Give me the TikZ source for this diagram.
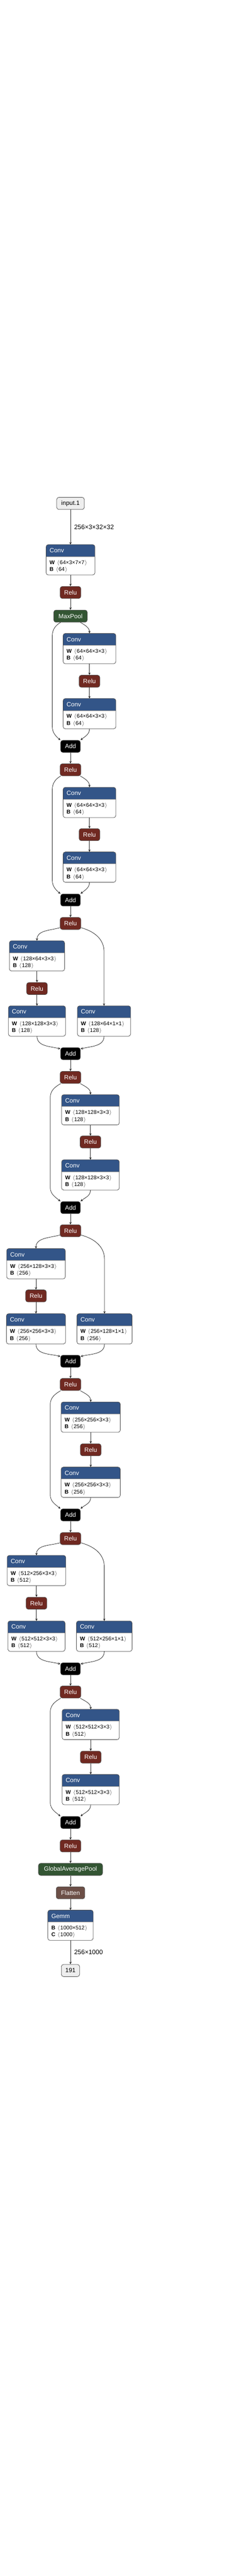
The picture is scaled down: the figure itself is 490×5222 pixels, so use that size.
\documentclass[tikz,border=0pt]{standalone}
\usepackage{fontspec}
\setmainfont{Liberation Sans}
\usetikzlibrary{arrows.meta, positioning, calc}

\definecolor{convblue}{RGB}{51,85,136}
\definecolor{relured}{RGB}{112,41,33}
\definecolor{poolgreen}{RGB}{51,85,51}
\definecolor{flatbrown}{RGB}{108,79,71}
\definecolor{iogray}{RGB}{238,238,238}

\tikzset{
  op/.style={draw=black!70, line width=0.8pt, rounded corners=4.5pt, minimum height=24.5pt, inner sep=0pt, text=white, font=\fontsize{12.5}{14}\selectfont},
  relu/.style={op, fill=relured, minimum width=42pt},
  addop/.style={op, fill=black, minimum width=40pt},
  pool/.style={op, fill=poolgreen},
  io/.style={op, fill=iogray, text=black},
  layerbox/.style={rectangle, fill=white, minimum height=61.5pt, inner sep=0pt, outer sep=0pt},
  attr/.style={anchor=west, inner sep=0pt, text=black, font=\fontsize{11}{12}\selectfont},
  link/.style={-{Stealth[length=5pt,width=4.5pt]}, draw=black!85, line width=0.8pt},
  lbl/.style={right, inner sep=0pt, xshift=7pt, text=black, font=\fontsize{13}{15}\selectfont}
}

\newcommand{\tsize}[1]{\ensuremath{\langle}\hspace{1pt}#1\hspace{1pt}\ensuremath{\rangle}}

% name, top centre, width, title, first row, second row
\newcommand{\opblock}[6]{%
  \node[layerbox, minimum width=#3pt, anchor=north] (#1) at (#2) {};
  \begin{scope}
    \clip[rounded corners=4.5pt] (#1.north west) rectangle (#1.south east);
    \fill[convblue] (#1.north west) rectangle ([yshift=-24pt]#1.north east);
  \end{scope}
  \draw[black!45, line width=0.5pt] ([yshift=-24pt]#1.north west) -- ([yshift=-24pt]#1.north east);
  \draw[black!70, line width=0.8pt, rounded corners=4.5pt] (#1.north west) rectangle (#1.south east);
  \node[attr, text=white, font=\fontsize{12.5}{14}\selectfont] (#1-t) at ([xshift=7pt,yshift=-12pt]#1.north west) {#4};
  \node[attr] (#1-w) at ([xshift=7pt,yshift=-37pt]#1.north west) {#5};
  \node[attr] (#1-b) at ([xshift=7pt,yshift=-51pt]#1.north west) {#6};
}

\begin{document}
\begin{tikzpicture}[x=1pt, y=-1pt]
\fill[white] (0,0) rectangle (490,5222);
\useasboundingbox (0,0) rectangle (490,5222);

% stem
\node[io, minimum width=56pt] (in) at (143,1020.5) {input.1};
\opblock{conv0}{143,1104}{99}{Conv}{\textbf{W}\hspace{5pt}\tsize{64×3×7×7}}{\textbf{B}\hspace{5pt}\tsize{64}}
\node[relu] (relu0) at (143,1201) {Relu};
\node[pool, minimum width=68pt] (mp) at (143,1249) {MaxPool};

% block 1
\opblock{c11}{181.5,1284}{107}{Conv}{\textbf{W}\hspace{5pt}\tsize{64×64×3×3}}{\textbf{B}\hspace{5pt}\tsize{64}}
\node[relu] (r11) at (181.5,1381) {Relu};
\opblock{c12}{181.5,1416}{107}{Conv}{\textbf{W}\hspace{5pt}\tsize{64×64×3×3}}{\textbf{B}\hspace{5pt}\tsize{64}}
\node[addop] (add1) at (143,1513) {Add};
\node[relu] (rel1) at (143,1560.5) {Relu};

% block 2
\opblock{c21}{181.5,1596}{107}{Conv}{\textbf{W}\hspace{5pt}\tsize{64×64×3×3}}{\textbf{B}\hspace{5pt}\tsize{64}}
\node[relu] (r21) at (181.5,1692) {Relu};
\opblock{c22}{181.5,1727}{107}{Conv}{\textbf{W}\hspace{5pt}\tsize{64×64×3×3}}{\textbf{B}\hspace{5pt}\tsize{64}}
\node[addop] (add2) at (143,1824.5) {Add};
\node[relu] (rel2) at (143,1872) {Relu};

% block 3
\opblock{c31}{75,1907}{112}{Conv}{\textbf{W}\hspace{5pt}\tsize{128×64×3×3}}{\textbf{B}\hspace{5pt}\tsize{128}}
\node[relu] (r31) at (75,2004) {Relu};
\opblock{c32}{75,2039}{116}{Conv}{\textbf{W}\hspace{5pt}\tsize{128×128×3×3}}{\textbf{B}\hspace{5pt}\tsize{128}}
\opblock{c3d}{211,2039}{108}{Conv}{\textbf{W}\hspace{5pt}\tsize{128×64×1×1}}{\textbf{B}\hspace{5pt}\tsize{128}}
\node[addop] (add3) at (143,2136) {Add};
\node[relu] (rel3) at (143,2184) {Relu};

% block 4
\opblock{c41}{183.5,2219}{117}{Conv}{\textbf{W}\hspace{5pt}\tsize{128×128×3×3}}{\textbf{B}\hspace{5pt}\tsize{128}}
\node[relu] (r41) at (183.5,2315) {Relu};
\opblock{c42}{183.5,2351}{117}{Conv}{\textbf{W}\hspace{5pt}\tsize{128×128×3×3}}{\textbf{B}\hspace{5pt}\tsize{128}}
\node[addop] (add4) at (143,2448) {Add};
\node[relu] (rel4) at (143,2495) {Relu};

% block 5
\opblock{c51}{73,2531}{119}{Conv}{\textbf{W}\hspace{5pt}\tsize{256×128×3×3}}{\textbf{B}\hspace{5pt}\tsize{256}}
\node[relu] (r51) at (73,2627) {Relu};
\opblock{c52}{73,2663}{120}{Conv}{\textbf{W}\hspace{5pt}\tsize{256×256×3×3}}{\textbf{B}\hspace{5pt}\tsize{256}}
\opblock{c5d}{212,2663}{112}{Conv}{\textbf{W}\hspace{5pt}\tsize{256×128×1×1}}{\textbf{B}\hspace{5pt}\tsize{256}}
\node[addop] (add5) at (143,2759.5) {Add};
\node[relu] (rel5) at (143,2806.5) {Relu};

% block 6
\opblock{c61}{184,2842}{120}{Conv}{\textbf{W}\hspace{5pt}\tsize{256×256×3×3}}{\textbf{B}\hspace{5pt}\tsize{256}}
\node[relu] (r61) at (184,2939) {Relu};
\opblock{c62}{184,2974}{120}{Conv}{\textbf{W}\hspace{5pt}\tsize{256×256×3×3}}{\textbf{B}\hspace{5pt}\tsize{256}}
\node[addop] (add6) at (143,3071) {Add};
\node[relu] (rel6) at (143,3119) {Relu};

% block 7
\opblock{c71}{74,3153}{119}{Conv}{\textbf{W}\hspace{5pt}\tsize{512×256×3×3}}{\textbf{B}\hspace{5pt}\tsize{512}}
\node[relu] (r71) at (74,3250) {Relu};
\opblock{c72}{74,3286}{116}{Conv}{\textbf{W}\hspace{5pt}\tsize{512×512×3×3}}{\textbf{B}\hspace{5pt}\tsize{512}}
\opblock{c7d}{211.5,3286}{113}{Conv}{\textbf{W}\hspace{5pt}\tsize{512×256×1×1}}{\textbf{B}\hspace{5pt}\tsize{512}}
\node[addop] (add7) at (143,3383) {Add};
\node[relu] (rel7) at (143,3430) {Relu};

% block 8
\opblock{c81}{184,3465}{116}{Conv}{\textbf{W}\hspace{5pt}\tsize{512×512×3×3}}{\textbf{B}\hspace{5pt}\tsize{512}}
\node[relu] (r81) at (184,3562) {Relu};
\opblock{c82}{184,3597}{116}{Conv}{\textbf{W}\hspace{5pt}\tsize{512×512×3×3}}{\textbf{B}\hspace{5pt}\tsize{512}}
\node[addop] (add8) at (143,3694.5) {Add};
\node[relu] (rel8) at (143,3742) {Relu};

% head
\node[pool, minimum width=130pt] (gap) at (143,3789.5) {GlobalAveragePool};
\node[op, fill=flatbrown, minimum width=58pt] (flat) at (143,3837) {Flatten};
\opblock{gemm}{143,3872}{92}{Gemm}{\textbf{B}\hspace{5pt}\tsize{1000×512}}{\textbf{C}\hspace{5pt}\tsize{1000}}
\node[io, minimum width=37pt] (out) at (143,3994.5) {191};

% stem edges
\draw[link] (in) -- node[lbl] {256×3×32×32} (conv0);
\draw[link] (conv0) -- (relu0);
\draw[link] (relu0) -- (mp);

% block 1 edges
\draw[link] ([xshift=20pt]mp.south) to[out=-30,in=90] (c11.north);
\draw[link] (c11) -- (r11);
\draw[link] (r11) -- (c12);
\draw[link] (c12.south) to[out=-90,in=40] (add1.north east);
\draw[link] ([xshift=-20pt]mp.south) to[out=-150,in=90] ([xshift=-37pt,yshift=-28pt]mp.south) -- ([xshift=-37pt,yshift=28pt]add1.north) to[out=-90,in=140] (add1.north west);
\draw[link] (add1) -- (rel1);

% block 2 edges
\draw[link] ([xshift=20pt]rel1.south) to[out=-30,in=90] (c21.north);
\draw[link] (c21) -- (r21);
\draw[link] (r21) -- (c22);
\draw[link] (c22.south) to[out=-90,in=40] (add2.north east);
\draw[link] ([xshift=-20pt]rel1.south) to[out=-150,in=90] ([xshift=-37pt,yshift=-28pt]rel1.south) -- ([xshift=-37pt,yshift=28pt]add2.north) to[out=-90,in=140] (add2.north west);
\draw[link] (add2) -- (rel2);

% block 3 edges
\draw[link] ([yshift=4pt]rel2.south west) to[out=-165,in=90] (c31.north);
\draw[link] ([yshift=4pt]rel2.south east) to[out=-15,in=90] ([yshift=110pt]c3d.north) -- (c3d.north);
\draw[link] (c31) -- (r31);
\draw[link] (r31) -- (c32);
\draw[link] (c32.south) to[out=-90,in=165] ([yshift=-3pt]add3.north west);
\draw[link] (c3d.south) to[out=-90,in=15] ([yshift=-3pt]add3.north east);
\draw[link] (add3) -- (rel3);

% block 4 edges
\draw[link] ([xshift=20pt]rel3.south) to[out=-30,in=90] (c41.north);
\draw[link] (c41) -- (r41);
\draw[link] (r41) -- (c42);
\draw[link] (c42.south) to[out=-90,in=40] (add4.north east);
\draw[link] ([xshift=-20pt]rel3.south) to[out=-150,in=90] ([xshift=-41pt,yshift=-28pt]rel3.south) -- ([xshift=-41pt,yshift=28pt]add4.north) to[out=-90,in=140] (add4.north west);
\draw[link] (add4) -- (rel4);

% block 5 edges
\draw[link] ([yshift=4pt]rel4.south west) to[out=-165,in=90] (c51.north);
\draw[link] ([yshift=4pt]rel4.south east) to[out=-15,in=90] ([yshift=110pt]c5d.north) -- (c5d.north);
\draw[link] (c51) -- (r51);
\draw[link] (r51) -- (c52);
\draw[link] (c52.south) to[out=-90,in=165] ([yshift=-3pt]add5.north west);
\draw[link] (c5d.south) to[out=-90,in=15] ([yshift=-3pt]add5.north east);
\draw[link] (add5) -- (rel5);

% block 6 edges
\draw[link] ([xshift=20pt]rel5.south) to[out=-30,in=90] (c61.north);
\draw[link] (c61) -- (r61);
\draw[link] (r61) -- (c62);
\draw[link] (c62.south) to[out=-90,in=40] (add6.north east);
\draw[link] ([xshift=-20pt]rel5.south) to[out=-150,in=90] ([xshift=-41pt,yshift=-28pt]rel5.south) -- ([xshift=-41pt,yshift=28pt]add6.north) to[out=-90,in=140] (add6.north west);
\draw[link] (add6) -- (rel6);

% block 7 edges
\draw[link] ([yshift=4pt]rel6.south west) to[out=-165,in=90] (c71.north);
\draw[link] ([yshift=4pt]rel6.south east) to[out=-15,in=90] ([yshift=110pt]c7d.north) -- (c7d.north);
\draw[link] (c71) -- (r71);
\draw[link] (r71) -- (c72);
\draw[link] (c72.south) to[out=-90,in=165] ([yshift=-3pt]add7.north west);
\draw[link] (c7d.south) to[out=-90,in=15] ([yshift=-3pt]add7.north east);
\draw[link] (add7) -- (rel7);

% block 8 edges
\draw[link] ([xshift=20pt]rel7.south) to[out=-30,in=90] (c81.north);
\draw[link] (c81) -- (r81);
\draw[link] (r81) -- (c82);
\draw[link] (c82.south) to[out=-90,in=40] (add8.north east);
\draw[link] ([xshift=-20pt]rel7.south) to[out=-150,in=90] ([xshift=-41pt,yshift=-28pt]rel7.south) -- ([xshift=-41pt,yshift=28pt]add8.north) to[out=-90,in=140] (add8.north west);
\draw[link] (add8) -- (rel8);

% head edges
\draw[link] (rel8) -- (gap);
\draw[link] (gap) -- (flat);
\draw[link] (flat) -- (gemm);
\draw[link] (gemm) -- node[lbl] {256×1000} (out);
\end{tikzpicture}
\end{document}
